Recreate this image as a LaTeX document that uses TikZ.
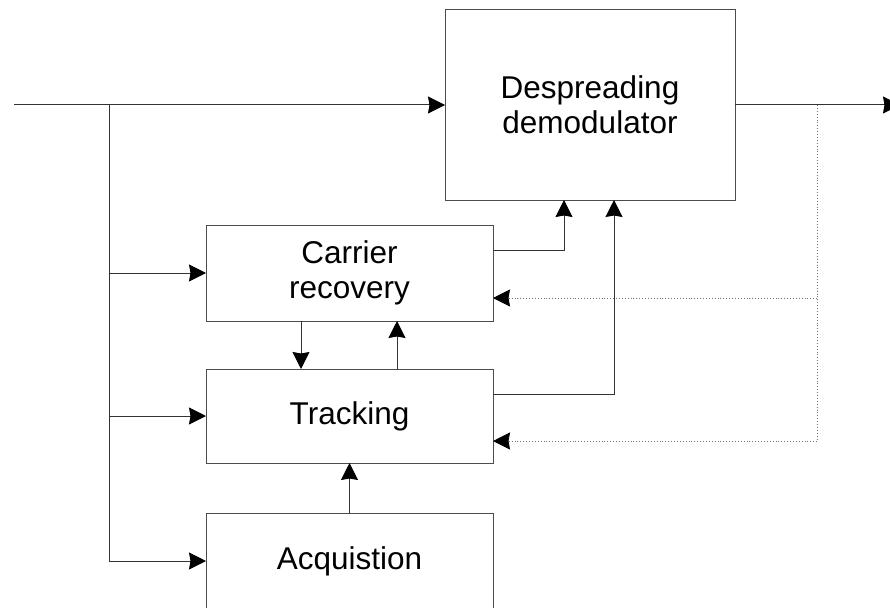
\documentclass[tikz,border=0pt]{standalone}
\usepackage{fontspec}
\setmainfont{Liberation Sans}
\usetikzlibrary{arrows.meta}
\begin{document}
\begin{tikzpicture}[x=1pt,y=-1pt,
  tip/.style={-{Stealth[length=17pt,width=17pt,inset=1.5pt,black,fill=black]}},
  blk/.style={draw=black!70, line width=1pt, rectangle, outer sep=0pt, inner sep=0pt, align=center, font=\fontsize{31.5}{35}\selectfont},
  conn/.style={draw=black!80, line width=1pt, tip},
  plain/.style={draw=black!80, line width=1pt},
  fb/.style={draw=black!55, line width=0.9pt, dotted, tip},
  fbline/.style={draw=black!55, line width=0.9pt, dotted}]
\useasboundingbox (0,0) rectangle (890,607);
\node[blk, minimum width=290pt, minimum height=190pt] (desp) at (590,105) {Despreading\\demodulator};
\node[blk, minimum width=287pt, minimum height=96pt] (carrier) at (349.5,273) {Carrier\\recovery};
\node[blk, minimum width=287pt, minimum height=94pt] (track) at (349.5,416) {Tracking};
\node[blk, minimum width=287pt, minimum height=96pt] (acq) at (349.5,561) {Acquistion};
\coordinate (in) at (14,105);
\coordinate (br) at (109,105);
\coordinate (brend) at (109,561);
\coordinate (out) at (900,105);
\coordinate (dtop) at (817,105);
\coordinate (dbot) at (817,441);
% input
\draw[conn] (in) -- (desp.west);
\draw[plain] (br) -- (brend);
\draw[conn] (br |- carrier.west) -- (carrier.west);
\draw[conn] (br |- track.west) -- (track.west);
\draw[conn] (brend) -- (acq.west);
% output
\draw[conn] (desp.east) -- (out);
% feedback dotted
\draw[fbline] (dtop) -- (dbot);
\draw[fb] (dtop |- 0,298) -- (carrier.east |- 0,298);
\draw[fb] (dbot) -- (track.east |- dbot);
% to demodulator
\draw[conn] (carrier.east |- 0,250) -| (desp.south -| 564,0);
\draw[conn] (track.east |- 0,394) -| (desp.south -| 614,0);
% between blocks
\draw[conn] (carrier.south -| 301,0) -- (track.north -| 301,0);
\draw[conn] (track.north -| 397,0) -- (carrier.south -| 397,0);
\draw[conn] (acq.north) -- (track.south);
\end{tikzpicture}
\end{document}
